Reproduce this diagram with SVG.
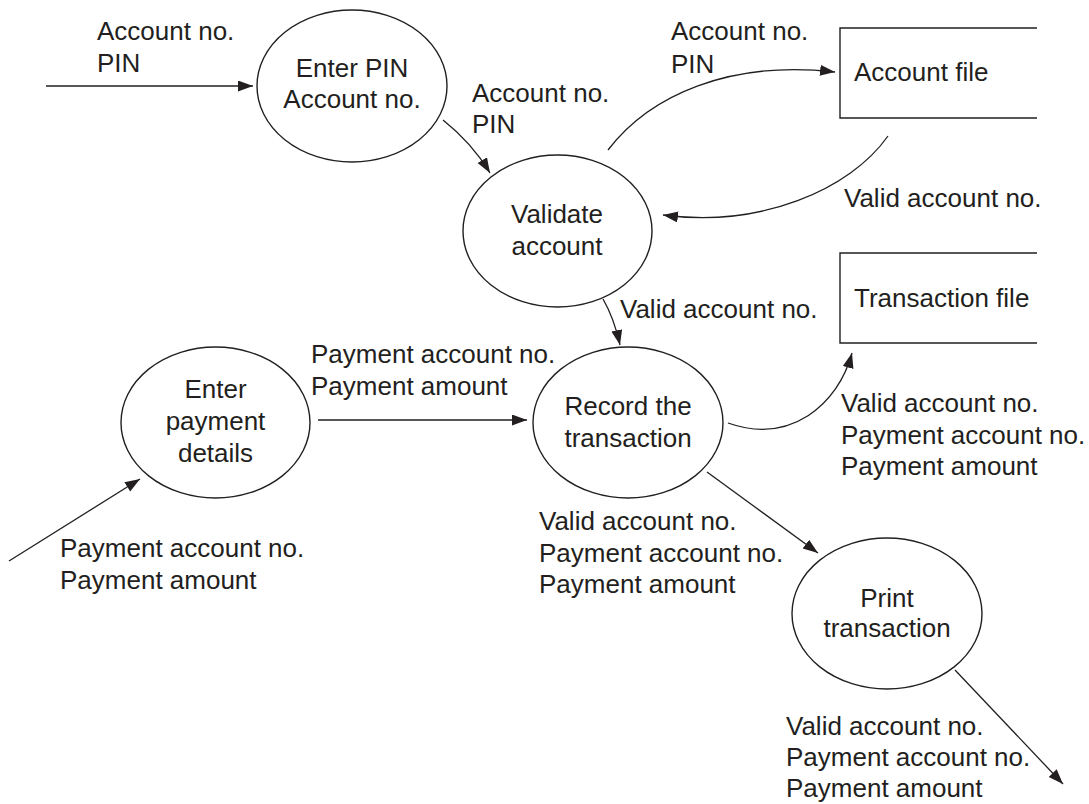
<svg xmlns="http://www.w3.org/2000/svg" width="1089" height="804" viewBox="0 0 1089 804">
<style>
.n{fill:none;stroke:#231f20;stroke-width:1.4}
.c{fill:none;stroke:#231f20;stroke-width:1.3;marker-end:url(#ah)}
.b{fill:none;stroke:#231f20;stroke-width:1.4}
text{font-family:"Liberation Sans",Arial,sans-serif;font-size:26px;fill:#231f20}
.m{text-anchor:middle}
</style>
<defs>
<marker id="ah" markerUnits="userSpaceOnUse" markerWidth="16" markerHeight="12" refX="15" refY="5.5" orient="auto">
<path d="M0,0 L15,5.5 L0,11 z" fill="#231f20"/>
</marker>
</defs>
<rect width="1089" height="804" fill="#fff"/>
<g id="enter-pin">
<ellipse class="n" cx="352" cy="86" rx="95" ry="76"/>
<text class="m" x="352" y="77">Enter PIN</text>
<text class="m" x="352" y="108">Account no.</text>
</g>
<g id="validate">
<ellipse class="n" cx="557.5" cy="231" rx="94.5" ry="76"/>
<text class="m" x="557" y="223">Validate</text>
<text class="m" x="557" y="255">account</text>
</g>
<g id="account-file">
<path class="b" d="M1037,28 H840 V118 H1037"/>
<text x="854" y="81">Account file</text>
</g>
<g id="transaction-file">
<path class="b" d="M1037,253 H840 V343 H1037"/>
<text x="854" y="307">Transaction file</text>
</g>
<g id="enter-payment">
<ellipse class="n" cx="215.5" cy="422.5" rx="94.5" ry="75.5"/>
<text class="m" x="215.5" y="398">Enter</text>
<text class="m" x="215.5" y="430">payment</text>
<text class="m" x="215.5" y="462">details</text>
</g>
<g id="record">
<ellipse class="n" cx="628" cy="422.5" rx="95" ry="75.5"/>
<text class="m" x="628" y="415">Record the</text>
<text class="m" x="628" y="447">transaction</text>
</g>
<g id="print">
<ellipse class="n" cx="887" cy="613.5" rx="95" ry="75.5"/>
<text class="m" x="887" y="607">Print</text>
<text class="m" x="887" y="637">transaction</text>
</g>
<g id="connectors">
<path class="c" d="M46,86 H253"/>
<path class="c" d="M443,120 Q472,143 490,173"/>
<path class="c" d="M608,150 C650,95 730,60 835,72"/>
<path class="c" d="M888,136 C850,190 760,228 663,215"/>
<path class="c" d="M603,299 Q614,318 620,345"/>
<path class="c" d="M318,420 H527"/>
<path class="c" d="M9,561 L140,479"/>
<path class="c" d="M728,423 C790,445 838,405 852,353"/>
<path class="c" d="M707,472 L818,553"/>
<path class="c" d="M955,670 L1063,784"/>
</g>
<g id="labels">
<text x="97" y="40">Account no.</text>
<text x="97" y="72">PIN</text>
<text x="472" y="102">Account no.</text>
<text x="472" y="133">PIN</text>
<text x="671" y="40">Account no.</text>
<text x="671" y="73">PIN</text>
<text x="844" y="207">Valid account no.</text>
<text x="620" y="318">Valid account no.</text>
<text x="311" y="363">Payment account no.</text>
<text x="311" y="395">Payment amount</text>
<text x="60" y="557">Payment account no.</text>
<text x="60" y="589">Payment amount</text>
<text x="841" y="412">Valid account no.</text>
<text x="841" y="444">Payment account no.</text>
<text x="841" y="475">Payment amount</text>
<text x="539" y="530">Valid account no.</text>
<text x="539" y="562">Payment account no.</text>
<text x="539" y="593">Payment amount</text>
<text x="786" y="735">Valid account no.</text>
<text x="786" y="766">Payment account no.</text>
<text x="786" y="797">Payment amount</text>
</g>
</svg>
